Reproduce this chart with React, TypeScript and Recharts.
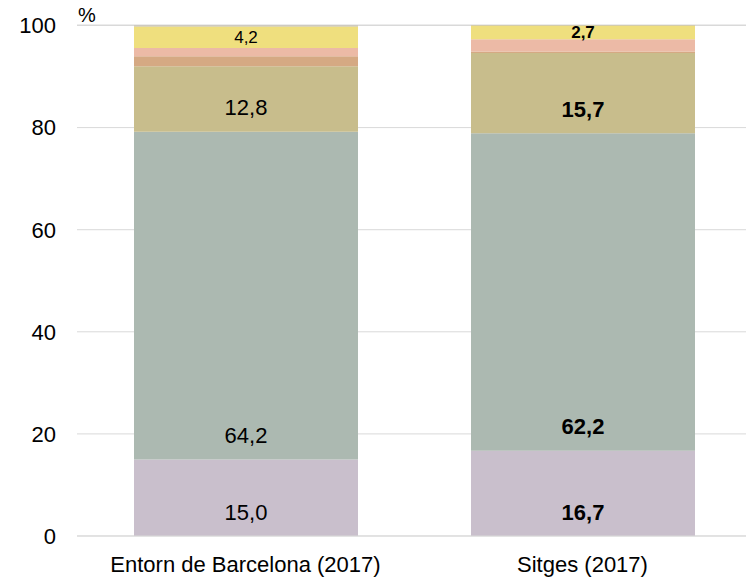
import React from 'react'
import { BarChart, Bar, XAxis, YAxis, CartesianGrid, LabelList } from 'recharts'

const categories = ['Entorn de Barcelona (2017)', 'Sitges (2017)']

// stacked shares (%), bottom to top
const s1 = [15.0, 16.7]
const s2 = [64.2, 62.2]
const s3 = [12.8, 15.7]
const s4 = [2.0, 0.3]
const s5 = [1.6, 2.4]
const s6 = [4.2, 2.7]
const s7 = [0.2, 0.1]

const yTicks = [0, 20, 40, 60, 80, 100]

const COLORS = ['#c9bfcc', '#acb9b1', '#c8bd8c', '#d5a983', '#ecbaa6', '#efdf7e', '#c4bca8']
const SERIES = [s1, s2, s3, s4, s5, s6, s7]
const LABELLED = [true, true, true, false, false, true, false]

const data = categories.map((name, i) => {
    const row: any = { name }
    SERIES.forEach((s, k) => { row[`s${k + 1}`] = s[i] })
    return row
})

const fmt = (v: number) => v.toFixed(1).replace('.', ',')

const makeLabel = (small: boolean) => (props: any) => {
    const { x, y, width, height, value, index } = props
    const bold = index === 1
    // large segments: label sits near the base; thin ones: centred
    const cy = height > 60 ? y + height - 24 : y + height / 2
    return (
        <text
            x={x + width / 2}
            y={cy}
            textAnchor="middle"
            dominantBaseline="central"
            fontSize={small ? 17 : 22}
            fontWeight={bold ? 'bold' : 'normal'}
            fill="#000"
        >
            {fmt(value)}
        </text>
    )
}

export default function App() {
    return (
        <div style={{ position: 'absolute', left: 0, top: 0, fontFamily: '"Liberation Sans", Arial, sans-serif' }}>
            <BarChart
                width={746}
                height={578}
                data={data}
                margin={{ top: 25, right: -5, bottom: 0, left: 0 }}
                barSize={224}
            >
                <CartesianGrid vertical={false} stroke="#d9d9d9" />
                <XAxis
                    dataKey="name"
                    height={42}
                    axisLine={{ stroke: '#d9d9d9' }}
                    tickLine={false}
                    tick={{ fill: '#000', fontSize: 22 }}
                    tickMargin={14}
                />
                <YAxis
                    width={77}
                    domain={[0, 100]}
                    ticks={yTicks}
                    axisLine={false}
                    tickLine={false}
                    tick={{ fill: '#000', fontSize: 22 }}
                    tickMargin={15}
                />
                {SERIES.map((_, k) => (
                    <Bar key={k} dataKey={`s${k + 1}`} stackId="a" fill={COLORS[k]} isAnimationActive={false}>
                        {LABELLED[k] && <LabelList dataKey={`s${k + 1}`} content={makeLabel(k === 5)} />}
                    </Bar>
                ))}
                <text x={78} y={22} fontSize={20} fill="#000">%</text>
            </BarChart>
        </div>
    )
}
